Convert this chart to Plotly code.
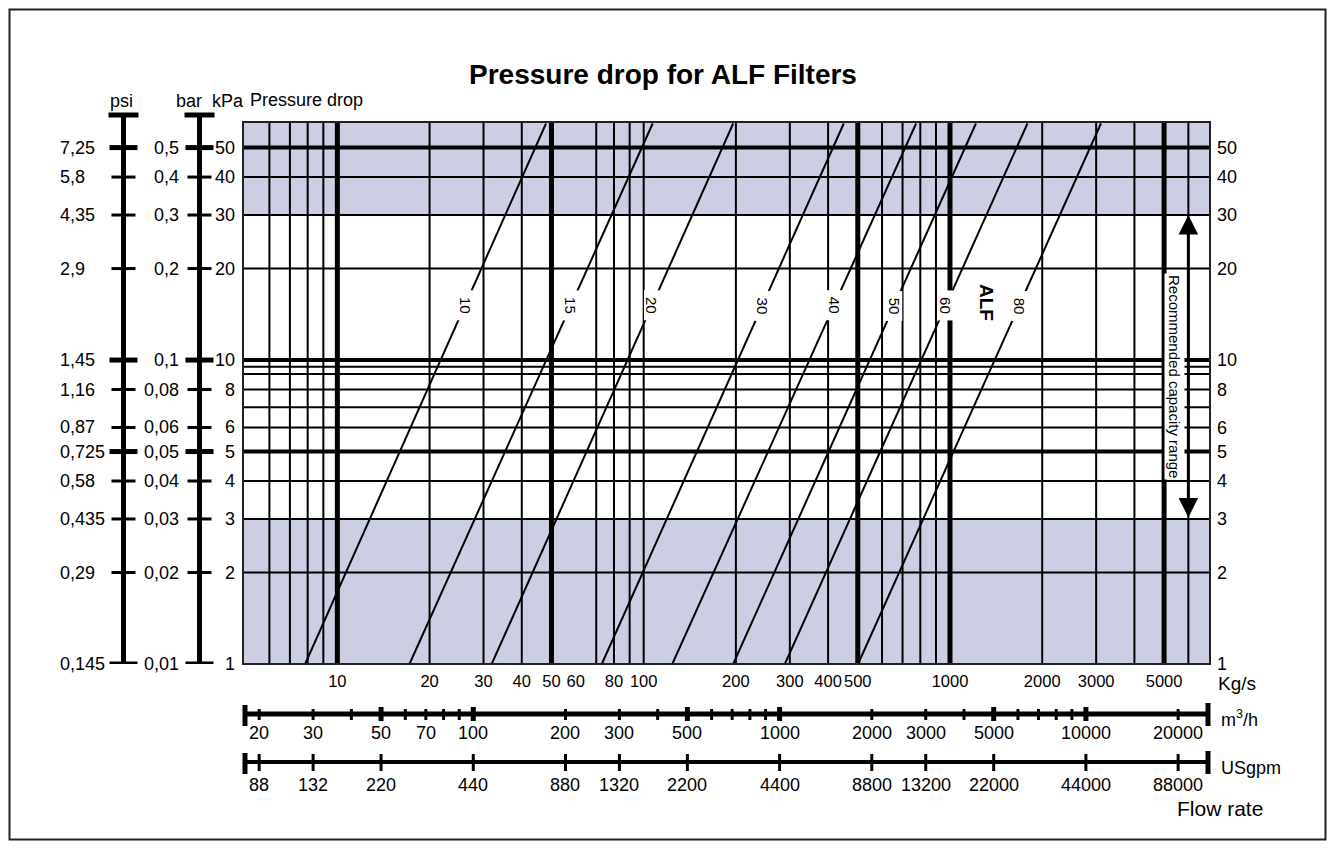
import numpy as np
import plotly.graph_objects as go

# ---------------- data ----------------
filter_sizes = ["10", "15", "20", "30", "40", "50", "60", "80"]
flow_at_dp_low = [7.85, 17.2, 31.9, 73.0, 124.0, 196.0, 289.0, 501.0]          # Kg/s at 1 kPa
flow_at_dp_high = [48.0, 107.0, 196.0, 450.0, 775.0, 1215.0, 1790.0, 3110.0]   # Kg/s at 60 kPa
dp_line_ends = [1, 60]
label_dp = 15.1

kgs_tick_vals = [10, 20, 30, 40, 50, 60, 80, 100, 200, 300, 400, 500, 1000, 2000, 3000, 5000]
kgs_grid_thin = [6, 7, 8, 9, 20, 30, 40, 70, 80, 90, 100, 200, 300, 400, 600, 700, 800, 900,
                 2000, 3000, 4000, 6000]
kgs_grid_thick = [10, 50, 500, 1000, 5000]

kpa_tick_vals = [1, 2, 3, 4, 5, 6, 8, 10, 20, 30, 40, 50]
kpa_grid_thin = [2, 3, 4, 6, 7, 8, 9, 9.5, 20, 30, 40]
kpa_grid_thick = [5, 10, 50]
kpa_major = [1, 5, 10, 50]
psi_tick_text = ["0,145", "0,29", "0,435", "0,58", "0,725", "0,87", "1,16", "1,45",
                 "2,9", "4,35", "5,8", "7,25"]
bar_tick_text = ["0,01", "0,02", "0,03", "0,04", "0,05", "0,06", "0,08", "0,1",
                 "0,2", "0,3", "0,4", "0,5"]

m3h_tick_vals = [20, 30, 40, 50, 60, 70, 80, 90, 100, 200, 300, 400, 500, 600, 700, 800, 900,
                 1000, 2000, 3000, 4000, 5000, 6000, 7000, 8000, 9000, 10000, 20000]
m3h_major = [50, 100, 500, 1000, 5000, 10000]
m3h_labels = [20, 30, 50, 70, 100, 200, 300, 500, 1000, 2000, 3000, 5000, 10000, 20000]
usgpm_tick_vals = [88, 132, 220, 440, 880, 1320, 2200, 4400, 8800, 13200, 22000, 44000, 88000]
M3H_PER_KGS = 3.6
USGPM_PER_M3H = 4.4

flow_range = [4.92, 7060]
dp_range = [1, 60.7]
band_low = [1, 3]
band_high = [30, 60.7]
recommended = [3, 30]
arrow_flow = 6000

# ---------------- layout geometry (page pixels) ----------------
PAGE_W, PAGE_H = 1335, 849
OFF = 8                       # default body margin of the page
W, H = PAGE_W - 2 * OFF, PAGE_H - 2 * OFF
L, R, T, B = 243, 1210, 122, 664
FONT = "Liberation Sans, Arial, Helvetica, sans-serif"
SHADE = "#CCCFE4"


def pxx(px):
    return (px - L) / (R - L)


def pxy(py):
    return (B - py) / (B - T)


fig = go.Figure()

# diagonal filter lines
for name, q1, q2 in zip(filter_sizes, flow_at_dp_low, flow_at_dp_high):
    fig.add_trace(go.Scatter(x=[q1, q2], y=dp_line_ends, mode="lines",
                             line=dict(color="black", width=2), hoverinfo="skip",
                             showlegend=False))

shapes = []
# shaded bands
for lo, hi in (band_low, band_high):
    shapes.append(dict(type="rect", xref="paper", yref="y", x0=0, x1=1, y0=lo, y1=hi,
                       fillcolor=SHADE, line=dict(width=0), layer="below"))
# vertical grid
for v in kgs_grid_thin:
    shapes.append(dict(type="line", xref="x", yref="paper", x0=v, x1=v, y0=0, y1=1,
                       line=dict(color="black", width=2), layer="below"))
for v in kgs_grid_thick:
    shapes.append(dict(type="line", xref="x", yref="paper", x0=v, x1=v, y0=0, y1=1,
                       line=dict(color="black", width=5), layer="below"))
# horizontal grid
for v in kpa_grid_thin:
    shapes.append(dict(type="line", xref="paper", yref="y", x0=0, x1=1, y0=v, y1=v,
                       line=dict(color="black", width=2), layer="below"))
for v in kpa_grid_thick:
    shapes.append(dict(type="line", xref="paper", yref="y", x0=0, x1=1, y0=v, y1=v,
                       line=dict(color="black", width=4), layer="below"))
# plot frame
shapes.append(dict(type="rect", xref="paper", yref="paper", x0=0, x1=1, y0=0, y1=1,
                   line=dict(color="#222222", width=2)))
# outer frame
shapes.append(dict(type="rect", xref="paper", yref="paper", x0=pxx(9.5), x1=pxx(1325.5),
                   y0=pxy(839.5), y1=pxy(9.5), line=dict(color="#222222", width=2)))

# left scales (psi line and bar/kPa line)
for cx in (123.5, 199.5):
    shapes.append(dict(type="line", xref="paper", yref="paper", x0=pxx(cx), x1=pxx(cx),
                       y0=pxy(663), y1=pxy(115), line=dict(color="black", width=5)))
    shapes.append(dict(type="line", xref="paper", yref="paper", x0=pxx(cx - 15),
                       x1=pxx(cx + 15), y0=pxy(115), y1=pxy(115),
                       line=dict(color="black", width=5)))
    for v in kpa_tick_vals:
        major = v in kpa_major
        hw = 14 if major else 12
        shapes.append(dict(type="line", xref="paper", yref="y", x0=pxx(cx - hw),
                           x1=pxx(cx + hw), y0=v, y1=v,
                           line=dict(color="black", width=5 if major else 3)))

# bottom flow scales
Y_M3H, Y_GPM = 714, 762
for yy in (Y_M3H, Y_GPM):
    shapes.append(dict(type="line", xref="paper", yref="paper", x0=pxx(244), x1=pxx(1209),
                       y0=pxy(yy), y1=pxy(yy),
                       line=dict(color="black", width=5 if yy == Y_M3H else 4)))
    shapes.append(dict(type="line", xref="paper", yref="paper", x0=pxx(245), x1=pxx(245),
                       y0=pxy(yy - 9), y1=pxy(yy + 12), line=dict(color="black", width=5)))
    shapes.append(dict(type="line", xref="paper", yref="paper", x0=pxx(1208), x1=pxx(1208),
                       y0=pxy(yy - 11), y1=pxy(yy + 12), line=dict(color="black", width=5)))
for v in m3h_tick_vals:
    major = v in m3h_major
    shapes.append(dict(type="line", xref="x", yref="paper", x0=v / M3H_PER_KGS,
                       x1=v / M3H_PER_KGS,
                       y0=pxy(Y_M3H - (7 if major else 5)), y1=pxy(Y_M3H + (7 if major else 6)),
                       line=dict(color="black", width=5 if major else 3)))
for v in usgpm_tick_vals:
    kg = v / USGPM_PER_M3H / M3H_PER_KGS
    shapes.append(dict(type="line", xref="x", yref="paper", x0=kg, x1=kg,
                       y0=pxy(Y_GPM - 8), y1=pxy(Y_GPM + 9),
                       line=dict(color="black", width=3)))

annotations = []


def add_text(text, x, y, size=18, xanchor="center", yanchor="middle", xref="paper",
             yref="paper", **kw):
    annotations.append(dict(text=text, x=x, y=y, xref=xref, yref=yref, showarrow=False,
                            xanchor=xanchor, yanchor=yanchor,
                            font=dict(family=FONT, size=size, color="black"), **kw))


# filter line labels (white box interrupts the line)
t_lab = np.log10(label_dp) / np.log10(dp_line_ends[1])
for name, q1, q2 in zip(filter_sizes, flow_at_dp_low, flow_at_dp_high):
    lx = np.log10(q1) + (np.log10(q2) - np.log10(q1)) * t_lab
    add_text(name, lx, np.log10(label_dp), size=15, xref="x", yref="y", textangle=90,
             bgcolor="white", borderpad=0, width=29, height=15)
add_text("<b>ALF</b>", pxx(987), pxy(302), size=19, textangle=90)

# recommended range arrow
annotations.append(dict(x=np.log10(arrow_flow), y=np.log10(recommended[1]),
                        ax=np.log10(arrow_flow), ay=np.log10(recommended[0]),
                        xref="x", yref="y", axref="x", ayref="y", text="", showarrow=True,
                        arrowhead=2, startarrowhead=2, arrowside="end+start",
                        arrowwidth=3, arrowsize=1.3, startarrowsize=1.3, arrowcolor="black",
                        standoff=0, startstandoff=0))
add_text("Recommended capacity range", pxx(1175), pxy(376), size=15, textangle=90,
         bgcolor="white", borderpad=1)

# left scale labels
for v, ps, bs in zip(kpa_tick_vals, psi_tick_text, bar_tick_text):
    yv = np.log10(v)
    add_text(ps, pxx(58), yv, xanchor="left", yref="y")
    add_text(bs, pxx(181), yv, xanchor="right", yref="y")
    add_text(str(v), pxx(237), yv, xanchor="right", yref="y")

# bottom scale labels
for v in m3h_labels:
    add_text(str(v), np.log10(v / M3H_PER_KGS), pxy(733), xref="x")
for v in usgpm_tick_vals:
    add_text(str(v), np.log10(v / USGPM_PER_M3H / M3H_PER_KGS), pxy(785), xref="x")

add_text("Kg/s", pxx(1216), pxy(683), xanchor="left", size=19)
add_text("m<sup>3</sup>/h", pxx(1219), pxy(718), xanchor="left", size=18)
add_text("USgpm", pxx(1219), pxy(768), xanchor="left", size=18)
add_text("Flow rate", pxx(1175), pxy(808), xanchor="left", size=21)

# titles
add_text("<b>Pressure drop for ALF Filters</b>", pxx(663), pxy(75), size=28)
add_text("Pressure drop", pxx(248), pxy(100), xanchor="left")
add_text("psi", pxx(121), pxy(101))
add_text("bar", pxx(189), pxy(101))
add_text("kPa", pxx(228), pxy(101))

fig.update_layout(
    width=W, height=H, autosize=False,
    margin=dict(l=L - OFF, r=W - (R - OFF), t=T - OFF, b=H - (B - OFF), pad=0),
    paper_bgcolor="white", plot_bgcolor="white",
    showlegend=False,
    font=dict(family=FONT, size=18, color="black"),
    xaxis=dict(type="log", range=[np.log10(flow_range[0]), np.log10(flow_range[1])],
               tickvals=kgs_tick_vals, ticktext=[str(v) for v in kgs_tick_vals],
               tickangle=0, showgrid=False, zeroline=False, showline=False, ticks="",
               tickfont=dict(size=16.5), ticklabelstandoff=5, fixedrange=True),
    yaxis=dict(type="log", range=[np.log10(dp_range[0]), np.log10(dp_range[1])],
               side="right", tickvals=kpa_tick_vals, ticktext=[str(v) for v in kpa_tick_vals],
               showgrid=False, zeroline=False, showline=False, ticks="",
               tickfont=dict(size=18), ticklabelstandoff=6, fixedrange=True),
    shapes=shapes,
    annotations=annotations,
)

fig.write_html("out.html")
